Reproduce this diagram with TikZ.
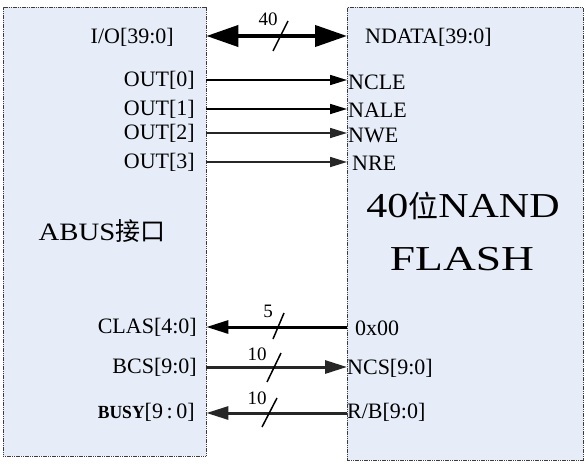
\documentclass[tikz,border=0pt]{standalone}
\usepackage{fontspec}
\setmainfont{Liberation Serif}
\newfontfamily\cjk{Noto Sans CJK SC}
\usetikzlibrary{arrows.meta}
\definecolor{boxfill}{RGB}{230,237,248}
\definecolor{boxline}{RGB}{60,60,60}
\begin{document}
\begin{tikzpicture}[x=1pt,y=-1pt,
  blk/.style={draw=boxline,fill=boxfill,line width=0.9pt,dash pattern=on 1.2pt off 0.6pt,inner sep=0pt},
  lbl/.style={inner sep=0pt,font=\fontsize{22}{26}\selectfont},
  num/.style={inner sep=0pt,font=\fontsize{19}{22}\selectfont},
  sig/.style={line width=1.6pt,-{Triangle[length=17pt,width=10pt]}},
  grainy/.style={draw=black!85},
  busleft/.style={line width=3pt,{Triangle[length=22pt,width=13pt]}-},
  busright/.style={line width=3pt,-{Triangle[length=22pt,width=13pt]}},
  slash/.style={line width=1.5pt}]
\useasboundingbox (0,0) rectangle (586,463);
% boxes
\node[blk,minimum width=203pt,minimum height=449pt,anchor=north west] (L) at (2.5,7) {};
\node[blk,minimum width=236pt,minimum height=453pt,anchor=north west] (R) at (347,7) {};
% edge coordinates
\foreach \n/\y in {io/36,o0/80,o1/109,o2/133,o3/162,cl/327,bc/367,bu/413}{
  \coordinate (\n l) at (L.east |- 0,\y);
  \coordinate (\n r) at (R.west |- 0,\y);
}
% labels
\node[lbl,anchor=east] (tio) at (174,37) {I/O[39:0]};
\node[lbl,anchor=west] (tnd) at (365,37) {NDATA[39:0]};
\node[lbl,anchor=east] (to0) at (195,80) {OUT[0]};
\node[lbl,anchor=east] (to1) at (195,109) {OUT[1]};
\node[lbl,anchor=east] (to2) at (195,133) {OUT[2]};
\node[lbl,anchor=east] (to3) at (195,162) {OUT[3]};
\node[lbl,anchor=west] (tn0) at (348,82) {NCLE};
\node[lbl,anchor=west] (tn1) at (348,110) {NALE};
\node[lbl,anchor=west] (tn2) at (348,135) {NWE};
\node[lbl,anchor=west] (tn3) at (352,163) {NRE};
\node[lbl,anchor=east] (tcl) at (197,327) {CLAS[4:0]};
\node[lbl,anchor=west] (tzz) at (355,328) {0x00};
\node[lbl,anchor=east] (tbc) at (197,367) {BCS[9:0]};
\node[lbl,anchor=west] (tnc) at (347,368) {NCS[9:0]};
\node[lbl,anchor=east] (tbu) at (195,412) {{\fontsize{18.5}{20}\selectfont\bfseries\scalebox{0.95}[1]{BUSY}}[9\,:\,0]};
\node[lbl,anchor=west] (trb) at (347,412) {R/B[9:0]};
\node[inner sep=0pt,anchor=center] (tab) at (102,231) {\fontsize{25}{30}\selectfont\scalebox{1.15}[1]{ABUS}{\cjk 接口}};
\node[inner sep=0pt,anchor=center] (tnand) at (463,206) {\fontsize{35}{40}\selectfont\scalebox{1.2}[1]{40}{\cjk\fontsize{30}{36}\selectfont 位}\scalebox{1.2}[1]{NAND}};
\node[inner sep=0pt,anchor=center] (tfl) at (462,259) {\fontsize{35}{40}\selectfont\scalebox{1.3}[1]{FLASH}};
% bus widths
\node[num] (n40) at (268,19) {40};
\node[num] (n5) at (268,311) {5};
\node[num] (n10a) at (257,354) {10};
\node[num] (n10b) at (257,398) {10};
% I/O bus
\draw[line width=4pt,{Triangle[length=32pt,width=21pt]}-{Triangle[length=32pt,width=21pt]}] (iol) -- (ior);
\draw[slash] (288,21) -- (273,51);
% control signals
\draw[sig] (o0l) -- (o0r);
\draw[sig] (o1l) -- (o1r);
\draw[sig,grainy] (o2l) -- (o2r);
\draw[sig,grainy] (o3l) -- (o3r);
% lower buses
\draw[busleft] (cll) -- (clr);
\draw[slash] (284,313) -- (273,339);
\draw[busright,grainy] (bcl) -- (bcr);
\draw[slash] (281,353) -- (267,382);
\draw[busleft,grainy] (bul) -- (bur);
\draw[slash] (277,398) -- (262,427);
\end{tikzpicture}
\end{document}
